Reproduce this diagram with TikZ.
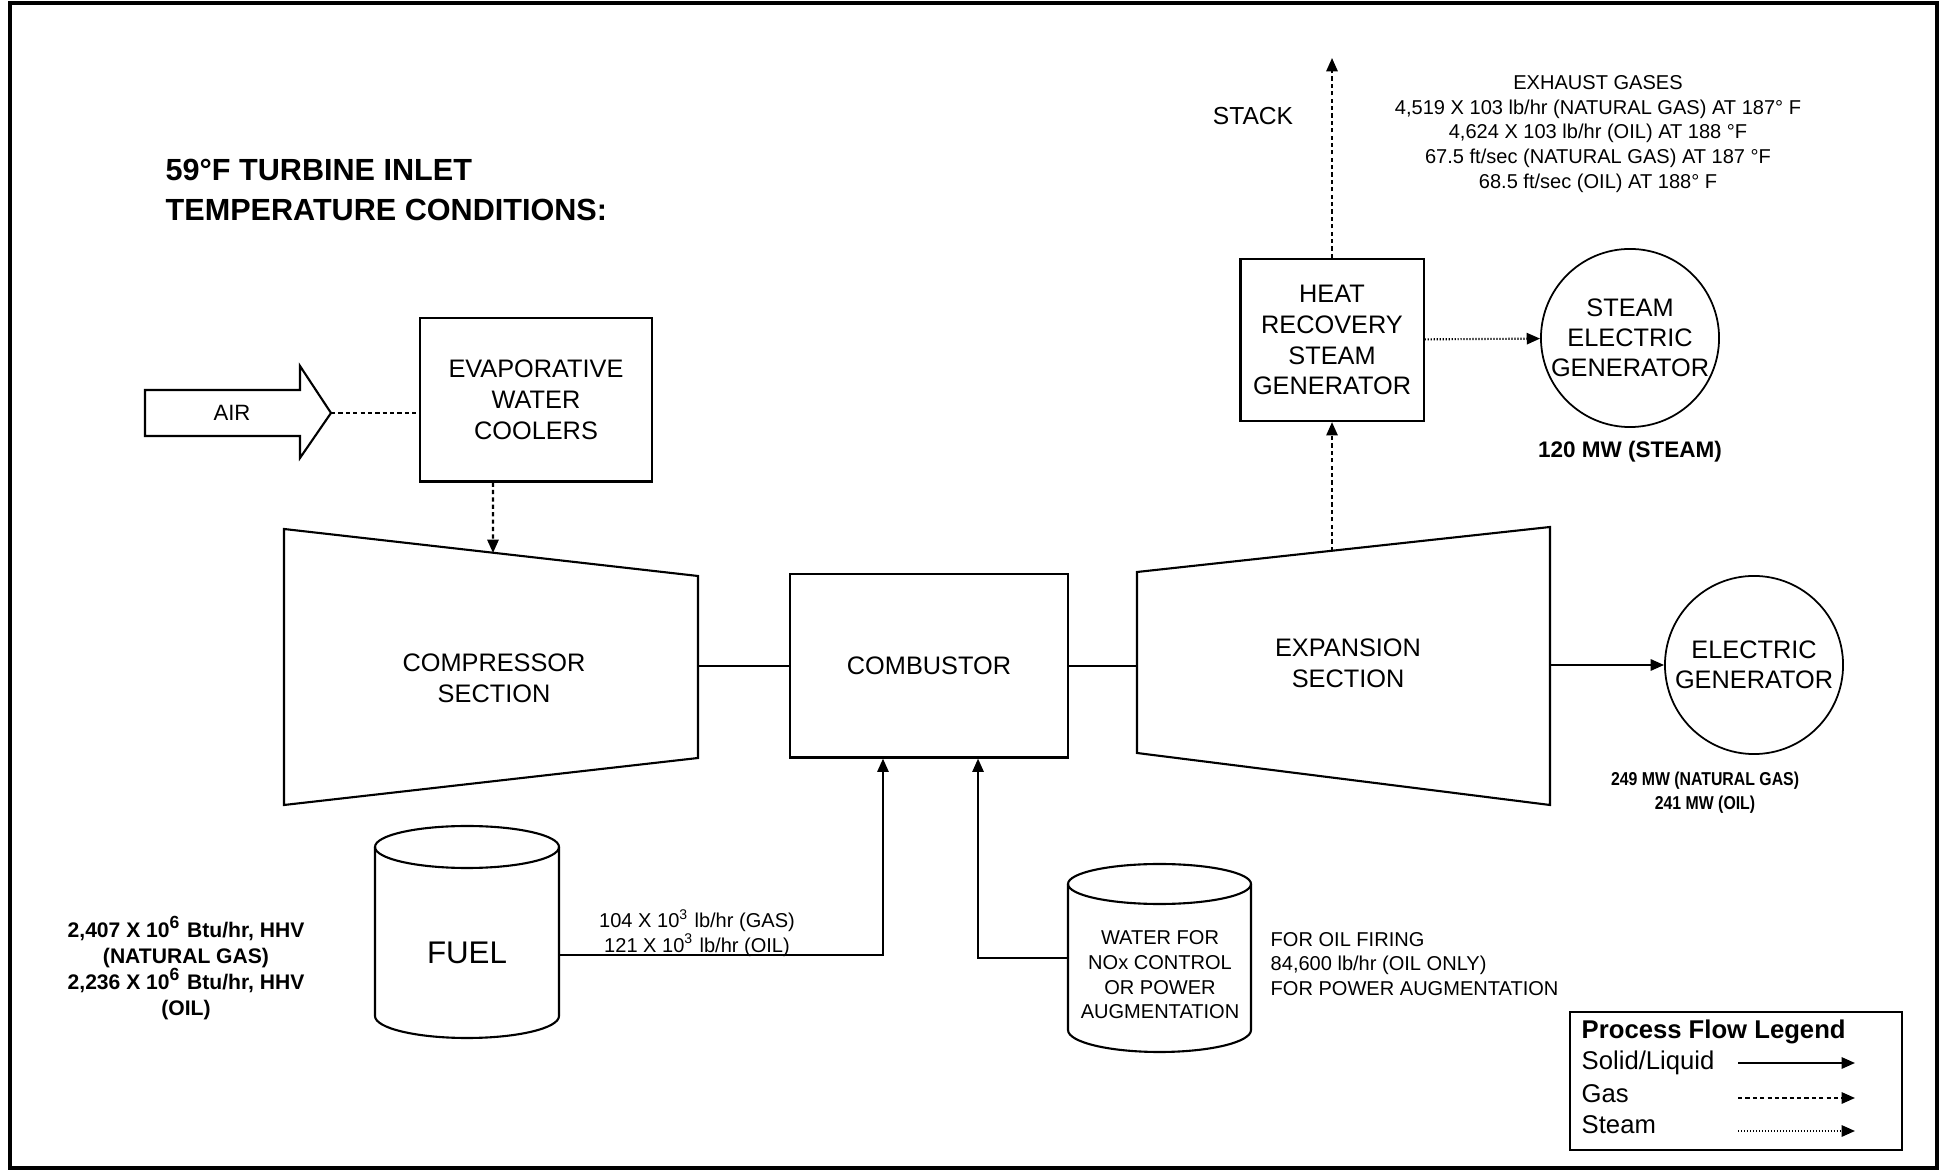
\documentclass[tikz,border=0pt]{standalone}
\usepackage{fontspec}
\setmainfont{Liberation Sans}
\newfontfamily\narrowsans[FakeStretch=0.85]{Liberation Sans}
\usetikzlibrary{
    arrows.meta,
    positioning
}

\begin{document}
\begin{tikzpicture}[
    x=0.01cm, y=-0.01cm,
    every node/.style = {inner sep=0pt},
    unitbox/.style    = {rectangle, draw, line width=0.6pt, align=center,
                         font=\fontsize{7.2}{8.8}\selectfont},
    gencircle/.style  = {circle, draw, line width=0.5pt, align=center,
                         minimum size=1.78cm, font=\fontsize{7.2}{8.6}\selectfont},
    unittext/.style   = {align=center, font=\fontsize{7.2}{8.8}\selectfont},
    smalltext/.style  = {align=center, font=\fontsize{5.7}{7}\selectfont},
    boldnote/.style   = {align=center, font=\bfseries\fontsize{6.4}{7.4}\selectfont},
    liquid/.style     = {line width=0.6pt, -{Triangle[length=3.8pt, width=3.2pt]}},
    gasflow/.style    = {line width=0.6pt, dash pattern=on 1.2pt off 0.9pt,
                         -{Triangle[length=3.8pt, width=3.2pt]}},
    steamflow/.style  = {line width=0.6pt, dash pattern=on 0.35pt off 0.5pt,
                         -{Triangle[length=3.8pt, width=3.2pt]}},
]
    \useasboundingbox (0,0) rectangle (1943,1171);
    \draw[line width=1.1pt] (10,3) rectangle (1937,1168);

    %Title
    \node[anchor=west, align=left, font=\bfseries\fontsize{8.7}{11.1}\selectfont]
        (title) at (165,190) {59°F TURBINE INLET\\TEMPERATURE CONDITIONS:};

    %Air inlet
    \draw[line width=0.6pt] (145,390) -- (300,390) -- (300,366) -- (331,413)
        -- (300,458) -- (300,436) -- (145,436) -- cycle;
    \node[font=\fontsize{6.3}{7.5}\selectfont] (air) at (232,413) {AIR};
    \coordinate (airtip) at (331,413);

    %Units
    \node[unitbox, minimum width=2.32cm, minimum height=1.63cm] (evap)
        at (536,400) {EVAPORATIVE\\WATER\\COOLERS};
    \node[unitbox, minimum width=2.78cm, minimum height=1.83cm] (comb)
        at (929,666) {COMBUSTOR};
    \node[unitbox, minimum width=1.83cm, minimum height=1.62cm] (hrsg)
        at (1332,340) {HEAT\\RECOVERY\\STEAM\\GENERATOR};
    \node[gencircle] (steamgen) at (1630,338) {STEAM\\ELECTRIC\\GENERATOR};
    \node[gencircle] (elecgen)  at (1754,665) {ELECTRIC\\GENERATOR};

    %Turbine sections
    \draw[line width=0.6pt] (284,529) -- (698,576) -- (698,758) -- (284,805) -- cycle;
    \node[unittext] (comp) at (494,678) {COMPRESSOR\\SECTION};
    \draw[line width=0.6pt] (1137,572) -- (1550,527) -- (1550,805) -- (1137,753) -- cycle;
    \node[unittext] (expn) at (1348,663) {EXPANSION\\SECTION};
    \coordinate (comp-in)  at (493,553);
    \coordinate (comp-out) at (698,666);
    \coordinate (expn-in)  at (1137,666);
    \coordinate (expn-top) at (1332,551);
    \coordinate (expn-out) at (1550,665);
    \coordinate (stack)    at (1332,58);

    %Tanks
    \draw[line width=0.6pt] (375,847) -- (375,1016)
        arc[start angle=180, end angle=0, x radius=92, y radius=22] -- (559,847);
    \draw[line width=0.6pt] (467,847) ellipse[x radius=92, y radius=21];
    \node[font=\fontsize{8.9}{10}\selectfont] (fuel) at (467,953) {FUEL};
    \coordinate (fuelout) at (559,955);
    \draw[line width=0.6pt] (1068,884) -- (1068,1030)
        arc[start angle=180, end angle=0, x radius=91.5, y radius=22] -- (1251,884);
    \draw[line width=0.6pt] (1159.5,884) ellipse[x radius=91.5, y radius=20];
    \node[smalltext] (water) at (1160,975)
        {WATER FOR\\NOx CONTROL\\OR POWER\\AUGMENTATION};
    \coordinate (waterout) at (1068,958);

    %Lines
    \draw[gasflow, -] (airtip) -- (airtip -| evap.west);
    \draw[gasflow] ([xshift=-0.43cm]evap.south) -- (comp-in);
    \draw[line width=0.6pt] (comp-out) -- (comp-out -| comb.west);
    \draw[line width=0.6pt] (comb.east) -- (comb.east -| expn-in);
    \draw[liquid] (expn-out) -- (elecgen);
    \draw[gasflow] (expn-top) -- (hrsg.south);
    \draw[gasflow] (hrsg.north) -- (stack);
    \draw[steamflow] (hrsg) -- (steamgen);
    \draw[liquid] (fuelout) -| ([xshift=-0.46cm]comb.south);
    \draw[liquid] (waterout) -| ([xshift=0.49cm]comb.south);

    %Labels
    \node[font=\fontsize{7}{8}\selectfont] (stacklabel) at (1253,116) {STACK};
    \node[smalltext] (exhaust) at (1598,134)
        {EXHAUST GASES\\4,519 X 103 lb/hr (NATURAL GAS) AT 187° F\\
         4,624 X 103 lb/hr (OIL) AT 188 °F\\67.5 ft/sec (NATURAL GAS) AT 187 °F\\
         68.5 ft/sec (OIL) AT 188° F};
    \node[boldnote] (steammw) at (1630,452) {120 MW (STEAM)};
    \node[boldnote, font=\narrowsans\bfseries\fontsize{5.3}{6.8}\selectfont]
        (elecmw) at (1705,793) {249 MW (NATURAL GAS)\\241 MW (OIL)};
    \node[boldnote, font=\bfseries\fontsize{6}{7.4}\selectfont] (fuelheat) at (186,968)
        {2,407 X 10\textsuperscript{6} Btu/hr, HHV\\(NATURAL GAS)\\
         2,236 X 10\textsuperscript{6} Btu/hr, HHV\\(OIL)};
    \node[smalltext] (fuelrate) at (697,933)
        {104 X 10\textsuperscript{3} lb/hr (GAS)\\121 X 10\textsuperscript{3} lb/hr (OIL)};
    \node[smalltext, anchor=west, align=left] (waterrate) at (1270,964)
        {FOR OIL FIRING\\84,600 lb/hr (OIL ONLY)\\FOR POWER AUGMENTATION};

    %Legend
    \node[draw, line width=0.6pt, minimum width=3.32cm, minimum height=1.38cm]
        (legend) at (1736,1081) {};
    \node[anchor=west, font=\bfseries\fontsize{7.3}{8}\selectfont] (legendtitle)
        at (1581,1032) {Process Flow Legend};
    \node[anchor=west, font=\fontsize{7.3}{8}\selectfont] (solidkey) at (1581,1063) {Solid/Liquid};
    \node[anchor=west, font=\fontsize{7.3}{8}\selectfont] (gaskey)   at (1581,1094) {Gas};
    \node[anchor=west, font=\fontsize{7.3}{8}\selectfont] (steamkey) at (1581,1125) {Steam};
    \coordinate (solid-a) at (1738,1063);
    \coordinate (solid-b) at (1855,1063);
    \coordinate (gas-a)   at (1738,1098);
    \coordinate (gas-b)   at (1855,1098);
    \coordinate (steam-a) at (1738,1131);
    \coordinate (steam-b) at (1855,1131);
    \draw[liquid]    (solid-a) -- (solid-b);
    \draw[gasflow]   (gas-a)   -- (gas-b);
    \draw[steamflow] (steam-a) -- (steam-b);
\end{tikzpicture}
\end{document}
